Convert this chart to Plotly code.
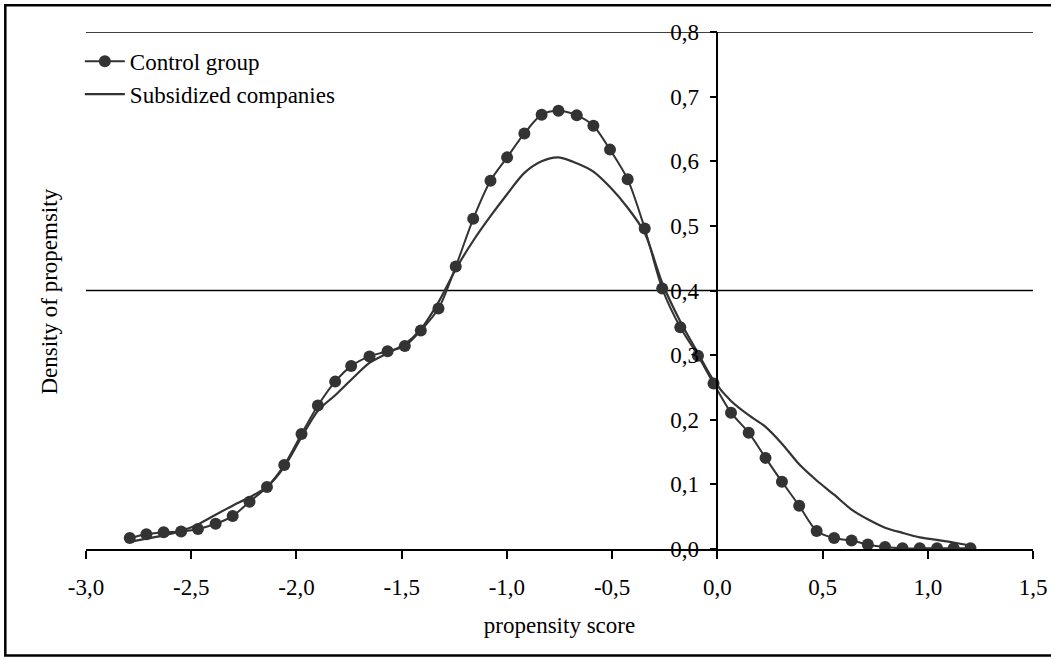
import plotly.graph_objects as go

# ---- data ----
x_score = [-2.792, -2.713, -2.631, -2.548, -2.468, -2.384, -2.303, -2.223, -2.140, -2.058,
           -1.976, -1.898, -1.816, -1.740, -1.653, -1.567, -1.485, -1.409, -1.325, -1.243,
           -1.160, -1.078, -0.999, -0.917, -0.835, -0.755, -0.668, -0.589, -0.510, -0.426,
           -0.345, -0.262, -0.176, -0.092, -0.018, 0.065, 0.149, 0.229, 0.307, 0.389,
           0.472, 0.555, 0.638, 0.715, 0.797, 0.880, 0.962, 1.044, 1.123, 1.203]

control_group = [0.017, 0.023, 0.026, 0.027, 0.031, 0.039, 0.051, 0.073, 0.096, 0.130,
                 0.178, 0.222, 0.259, 0.283, 0.298, 0.306, 0.314, 0.338, 0.372, 0.437,
                 0.511, 0.570, 0.606, 0.643, 0.672, 0.678, 0.671, 0.655, 0.618, 0.572,
                 0.496, 0.403, 0.343, 0.299, 0.256, 0.211, 0.180, 0.141, 0.104, 0.067,
                 0.028, 0.017, 0.013, 0.007, 0.003, 0.001, 0.001, 0.001, 0.001, 0.001]

subsidized_companies = [0.011, 0.016, 0.021, 0.028, 0.038, 0.053, 0.067, 0.080, 0.096, 0.127,
                        0.173, 0.214, 0.238, 0.262, 0.288, 0.303, 0.317, 0.340, 0.382, 0.433,
                        0.477, 0.515, 0.549, 0.582, 0.600, 0.606, 0.597, 0.584, 0.560, 0.528,
                        0.489, 0.412, 0.352, 0.303, 0.261, 0.229, 0.207, 0.189, 0.163, 0.131,
                        0.106, 0.084, 0.061, 0.046, 0.033, 0.025, 0.018, 0.014, 0.010, 0.005]

x_tick_vals = [-3.0, -2.5, -2.0, -1.5, -1.0, -0.5, 0.0, 0.5, 1.0, 1.5]
x_tick_text = ["-3,0", "-2,5", "-2,0", "-1,5", "-1,0", "-0,5", "0,0", "0,5", "1,0", "1,5"]
y_tick_vals = [0.0, 0.1, 0.2, 0.3, 0.4, 0.5, 0.6, 0.7, 0.8]
y_tick_text = ["0,0", "0,1", "0,2", "0,3", "0,4", "0,5", "0,6", "0,7", "0,8"]
grid_levels = [0.4, 0.8]

X_MIN, X_MAX = -3.0, 1.5
Y_MIN, Y_MAX = 0.0, 0.8

FONT = "Liberation Serif, Times New Roman, serif"
FS = 23
INK = "#333333"

fig = go.Figure()
fig.add_trace(go.Scatter(
    x=x_score, y=control_group, mode="lines+markers", name="Control group",
    line=dict(color=INK, width=2, shape="spline", smoothing=0.8),
    marker=dict(size=12, color=INK, symbol="circle"),
))
fig.add_trace(go.Scatter(
    x=x_score, y=subsidized_companies, mode="lines", name="Subsidized companies",
    line=dict(color=INK, width=2.2, shape="spline", smoothing=0.8),
))

for g in grid_levels:
    fig.add_hline(y=g, line=dict(color="black", width=1.5), layer="below")

# outer frame
fig.add_shape(type="rect", xref="paper", yref="paper",
              x0=-0.0852, x1=1.05, y0=-0.206, y1=1.0515,
              line=dict(color="black", width=2.5), layer="above")

fig.update_layout(
    width=1051, height=659,
    margin=dict(l=86, r=18, t=32, b=110, autoexpand=False),
    paper_bgcolor="white", plot_bgcolor="white",
    font=dict(family=FONT, size=FS, color="black"),
    showlegend=True,
    legend=dict(x=-0.0065, y=0.985, xanchor="left", yanchor="top", itemwidth=40,
                bgcolor="rgba(0,0,0,0)", font=dict(family=FONT, size=FS, color="black")),
    xaxis=dict(range=[X_MIN, X_MAX], tickvals=x_tick_vals, ticktext=x_tick_text,
               automargin=False,
               showgrid=False, zeroline=False, showline=True, linecolor="black", linewidth=1.5,
               ticks="outside", ticklen=8, tickcolor="black", tickwidth=1.5,
               ticklabelstandoff=9,
               tickfont=dict(family=FONT, size=FS, color="black"),
               title=dict(text="propensity score", font=dict(family=FONT, size=FS, color="black"),
                          standoff=18)),
    yaxis=dict(range=[Y_MIN, Y_MAX], tickvals=y_tick_vals, ticktext=y_tick_text,
               automargin=False,
               anchor="free", position=(0 - X_MIN) / (X_MAX - X_MIN),
               showgrid=False, zeroline=False, showline=True, linecolor="black", linewidth=1.5,
               ticks="outside", ticklen=7, tickcolor="black", tickwidth=1.5,
               ticklabelstandoff=6,
               tickfont=dict(family=FONT, size=FS, color="black")),
)

# y-axis title placed at the left side of the figure
fig.add_annotation(text="Density of propemsity", xref="paper", yref="paper",
                   x=-0.038, y=0.498, xanchor="center", yanchor="middle",
                   textangle=-90, showarrow=False,
                   font=dict(family=FONT, size=FS, color="black"))

fig.write_html("out.html", config={"displayModeBar": False},
               post_script="document.body.style.margin='0px';")
